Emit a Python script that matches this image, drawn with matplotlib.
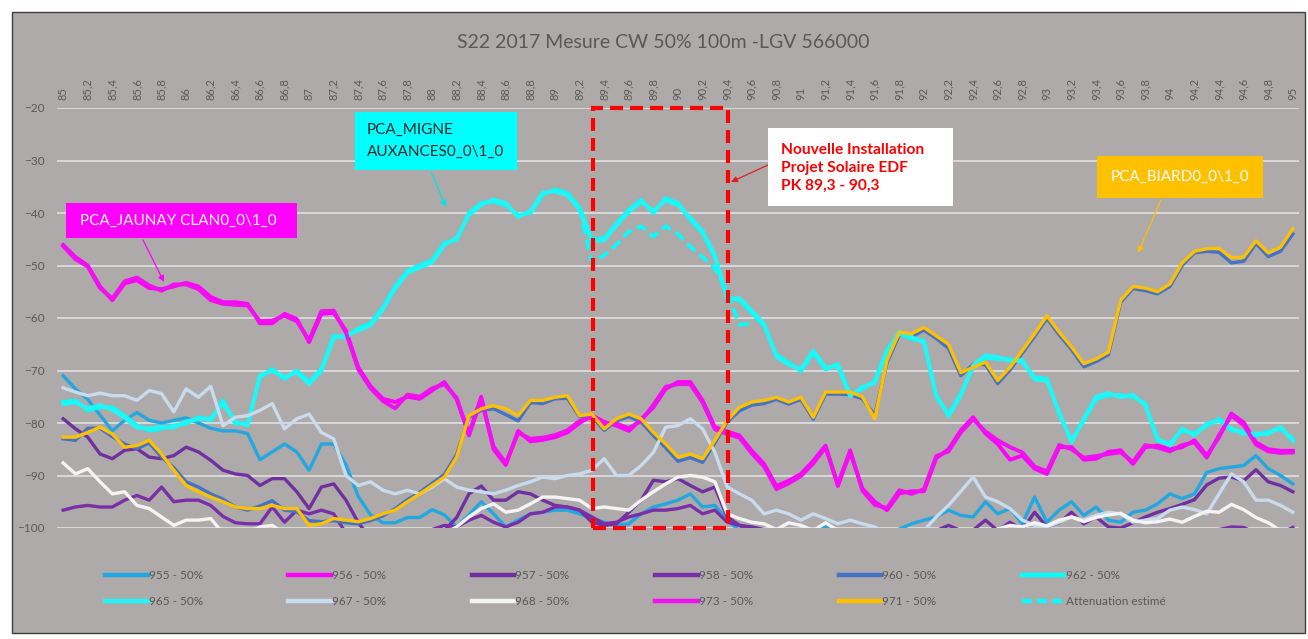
import matplotlib.pyplot as plt
import numpy as np
from matplotlib.patches import Rectangle
from matplotlib.lines import Line2D

plt.rcParams['font.family'] = ['Lato', 'DejaVu Sans']

# PK positions (km), one measure every 100 m
pk = np.round(np.arange(85.0, 95.05, 0.1), 1)
tick_pk = pk[::2]
tick_labels = [('%g' % v).replace('.', ',') for v in tick_pk]

s955 = [-71, -73.5, -75.5, -78.5, -81.5, -79.5, -78, -79.5, -80, -79.5,
        -79, -80, -81, -81.5, -81.5, -82, -87, -85.5, -84, -85.5,
        -89, -84, -84, -88, -94, -97.5, -99, -99, -98, -98,
        -96.5, -97.5, -99.8, -97.5, -95, -97.3, -99.8, -98.5, -97.3, -97,
        -96.6, -96.6, -97.3, -98.2, -98.9, -99.5, -99.2, -97.3, -96, -95.4,
        -94.7, -93.5, -96, -95.7, -98.5, -100.5, -102, -103, -103, -103,
        -102, -101, -99.8, -101, -103, -103, -103, -102, -100.2, -99.2,
        -98.5, -97.9, -96.6, -97.6, -97.9, -95, -97.3, -96.3, -99.2, -94.1,
        -98.9, -96.6, -95, -97.6, -96, -98.5, -98.9, -97, -96.6, -95.4,
        -93.5, -94.4, -93.5, -89.4, -88.7, -88.4, -88.1, -86.2, -88.7, -90, -91.6]

s956 = [-46.1, -48.4, -50, -54, -56.6, -53.4, -52.8, -54.3, -54.5, -54,
        -53.3, -54, -56, -57, -57, -57.3, -61, -61, -59.2, -60.2,
        -64.6, -59.2, -59, -62.4, -69.4, -73, -75.4, -76, -75, -75.4,
        -73.8, -72.2, -75.5, -82, -75, -85, -88, -81.5, -83.5, -83.2,
        -82.7, -81.8, -80, -78.5, -79.8, -80.5, -81.5, -79.3, -77, -73.5,
        -72.2, -72.2, -75.7, -80.8, -81.6, -82.4, -85.3, -87.8, -92, -91,
        -89.7, -87.2, -84.3, -92, -85.6, -92.5, -95, -96.6, -93.4, -93,
        -93, -86.7, -85, -81.4, -78.9, -82, -84, -87, -86.2, -88.7,
        -89.7, -84.6, -84.6, -87, -86.8, -85.5, -85.2, -87.8, -84.6, -84.3,
        -85, -84.6, -83.3, -86.2, -82.7, -78.2, -79.9, -83.7, -85, -85.3, -85.3]

s957 = [-79.2, -81.1, -82.7, -85.9, -86.8, -85.2, -84.9, -86.5, -86.8, -86.2,
        -84.6, -85.5, -87.1, -89, -89.7, -90, -91.9, -90.6, -90.6, -93.1,
        -96.3, -92.2, -91.6, -94.7, -99, -102, -103, -103, -103, -102,
        -101, -100.5, -98, -93.5, -92, -94.7, -94.7, -93.1, -93.5, -94.7,
        -95.7, -96, -96.6, -98.9, -99.5, -99.2, -97, -94.7, -90.9, -91.2,
        -90.6, -91.9, -93.1, -92.2, -97.9, -99.5, -99.8, -100.3, -101.5, -102,
        -102, -101.5, -102, -102, -102, -102, -102, -102, -102, -101.5,
        -101, -100.5, -99.5, -100.5, -100.4, -98.5, -100.5, -98.9, -100.3, -97,
        -99.8, -99, -97, -99.2, -97.9, -99.8, -100, -99, -97.9, -97,
        -96.3, -95.5, -94.6, -91.8, -90.5, -90.3, -91, -88.9, -91.2, -91.9, -93.1]

s958 = [-96.6, -96, -95.7, -96, -96, -94.7, -93.8, -94.7, -92.2, -95,
        -94.7, -94.7, -95.7, -97.8, -99, -99.2, -99.2, -96, -98.9, -96.6,
        -97.3, -96.6, -97.3, -101, -102, -102, -102, -102, -102, -101.5,
        -100.3, -99.5, -99.8, -98.5, -97.6, -98.9, -99.8, -98.9, -97.3, -97,
        -96, -96, -96.6, -97.9, -99.2, -98.9, -97.9, -97.3, -96.6, -96.6,
        -96.3, -95.7, -97.3, -96.6, -98.9, -99.5, -101, -102, -102, -102,
        -102, -102, -102, -102, -102, -102, -102, -102, -102, -102,
        -102, -102, -102, -102, -102, -102, -102, -102, -102, -102,
        -102, -102, -102, -102, -102, -102, -102, -101.5, -101, -101,
        -101, -101, -101, -100.8, -100.3, -99.8, -99.9, -101, -101.5, -101, -99.9]

s960 = [-83, -83.3, -81, -81, -82.6, -84, -84.9, -83.8, -86.5, -88.5,
        -91.2, -92.2, -93.5, -94.5, -96, -96.6, -95.8, -94.8, -96.6, -96.9,
        -98.6, -98.8, -98.6, -99, -99.2, -98.6, -97.7, -96.3, -94.6, -93.2,
        -91.5, -89.8, -86, -78.9, -77.6, -77.3, -78.4, -79.6, -76.1, -76.3,
        -75.4, -75.3, -78.8, -78.8, -81.4, -79.6, -78.8, -79.8, -82.4, -84.7,
        -87.3, -86.6, -87.5, -83.8, -79.8, -77.7, -76.6, -76.3, -75.5, -76.4,
        -75.5, -79.3, -74.5, -74.5, -74.6, -75.4, -78.5, -68.5, -63.2, -63.6,
        -62.3, -63.9, -65.8, -71, -68.8, -68.9, -72.5, -69.9, -66.7, -63.5,
        -60.1, -63.2, -66, -69.3, -68.3, -67, -57, -54.4, -54.8, -55.4,
        -54, -50, -47.6, -47.3, -47.5, -49.5, -49.2, -45.8, -48.3, -47.3, -44]

s962 = [-76, -75.7, -77.6, -77, -77, -78.6, -80.5, -81.4, -81.1, -80.5,
        -80.1, -78.9, -79.5, -75.7, -80.1, -80.1, -71.3, -69.7, -71.6, -70,
        -72.2, -69.7, -63.4, -63.7, -62, -61, -58, -54, -51, -50,
        -49, -45.7, -45.1, -40, -38.1, -37.8, -38.5, -40.4, -40, -36.5,
        -35.5, -36.2, -39, -45, -44.8, -42, -39.4, -37.5, -40, -37.2,
        -38.1, -41.3, -43.8, -48.4, -56, -56.6, -59, -61.5, -67, -68.5,
        -70.1, -66.6, -69.8, -68.8, -74.5, -73.5, -72, -66, -63, -64,
        -64.3, -75, -78.3, -74.4, -69.4, -67.5, -67.8, -67.8, -68.4, -71.3,
        -71.6, -78.3, -83.3, -79.5, -75.4, -74.7, -74.7, -75, -76.3, -83.3,
        -83.9, -81.4, -82, -80.5, -79.2, -81.4, -81.7, -82.4, -81.7, -81.1, -83]

s965 = [-76.4, -76.1, -77.2, -76.6, -77.5, -79, -80.9, -81, -80.7, -80.9,
        -79.7, -79.3, -79.1, -76.3, -79.7, -80.5, -70.9, -70.1, -71.2, -70.4,
        -72.6, -70.1, -63.8, -63.3, -62.4, -61.4, -58.4, -54.4, -51.4, -50.4,
        -49.4, -46.1, -44.7, -40.4, -38.5, -37.4, -38.1, -40.8, -39.6, -36.1,
        -35.9, -36.6, -39.4, -45.4, -45.2, -42.4, -39.8, -37.9, -39.6, -37.6,
        -38.5, -40.9, -43.4, -48, -56.4, -56.2, -58.6, -61.1, -67.4, -68.9,
        -69.7, -66.2, -69.4, -69.2, -74.9, -73.1, -72.4, -66.4, -62.6, -63.6,
        -64.7, -74.6, -78.7, -74.8, -69, -67.1, -67.4, -68.2, -68, -71.7,
        -72, -77.9, -83.7, -79.1, -75, -74.3, -75.1, -74.6, -76.7, -82.9,
        -84.3, -81, -82.4, -80.1, -79.6, -81, -82.1, -82, -82.1, -80.7, -83.4]

s967 = [-73.3, -74.1, -74.8, -74.3, -74.8, -74.8, -75.7, -73.8, -74.4, -77.9,
        -73.5, -75.1, -73, -80.5, -78.9, -78.6, -77.6, -76.3, -81.1, -79.2,
        -78.3, -81.8, -83, -90, -91.9, -91.2, -92.8, -93.5, -92.8, -93.5,
        -92.2, -90.6, -92.2, -92.8, -93.1, -93.5, -92.8, -91.9, -91.2, -90.3,
        -90.6, -90, -89.7, -89, -86.8, -90, -90, -88.1, -85.6, -80.8,
        -80.5, -79.2, -81.1, -85.6, -92.2, -93.5, -94.7, -97.3, -96.6, -97.3,
        -98.5, -97.3, -98.2, -99.2, -98.5, -99.2, -99.8, -101, -101, -101,
        -100.5, -97.9, -95.7, -93, -90.3, -94.1, -95, -96.3, -98.5, -99.5,
        -99.8, -98.9, -97.9, -98.5, -97.6, -97, -97.3, -98.9, -98.5, -98.2,
        -96.6, -96, -96.5, -97.3, -93.5, -89.7, -91.2, -94.7, -94.7, -95.7, -97]

s968 = [-87.6, -89.7, -88.7, -91.2, -93.5, -93.1, -95.7, -96.3, -97.9, -99.5,
        -98.5, -98.5, -98.2, -101, -102, -101, -99.8, -99.5, -101, -102,
        -102, -102, -102, -102, -102, -102, -102, -102, -102, -102,
        -102, -101, -99.8, -97.9, -96.3, -95.4, -97, -96.6, -95.4, -94.1,
        -94.1, -94.4, -94.7, -96.3, -96, -96.3, -96.6, -94.7, -93.1, -91.6,
        -90.3, -90, -90.3, -91.2, -97.3, -98.2, -98.9, -99.2, -100.3, -99,
        -99.5, -100.5, -99, -100.5, -101, -101, -101, -101, -101, -101,
        -101, -101, -101, -101, -101, -101, -100.2, -99.5, -99.8, -99,
        -99.6, -98.5, -97.9, -98.8, -98, -97.5, -97.2, -98.5, -99, -98.8,
        -98.3, -98.9, -97.8, -96.8, -97, -95.5, -96.5, -98, -99, -100.5, -101]

s973 = [-46.3, -48.8, -50.2, -54.3, -56.3, -53, -52.3, -53.8, -54.8, -53.6,
        -53.6, -54.5, -56.6, -57.3, -57.5, -57.6, -60.6, -60.5, -59.6, -60.6,
        -64.2, -58.7, -58.6, -62.8, -69.8, -73.4, -75.8, -77.2, -74.6, -75,
        -73.4, -72.6, -75.2, -82.4, -75.5, -84.5, -87.6, -81.9, -83, -82.8,
        -82.3, -81.4, -79.6, -78.9, -80.2, -80.1, -81, -79.6, -76.5, -73.1,
        -72.6, -72.6, -76.1, -81.2, -82.1, -82.8, -85.8, -88.3, -92.6, -91.5,
        -90.1, -87.7, -84.7, -91.6, -85.2, -92.9, -95.6, -96.2, -92.8, -93.5,
        -92.6, -86.3, -85.4, -81.8, -79.3, -81.6, -83.3, -84.6, -85.6, -88.3,
        -89.2, -84.2, -85, -86.6, -86.3, -85.9, -85.6, -87.4, -84.2, -84.7,
        -85.4, -84.2, -83.7, -86.6, -82.3, -78.6, -80.4, -84.1, -85.4, -85.7, -85.6]

s971 = [-82.7, -82.7, -81.8, -80.8, -82.1, -84.6, -84.3, -83.3, -85.9, -89,
        -91.9, -93.1, -94.1, -95, -96, -96.3, -96.3, -95.7, -96.3, -96.3,
        -99.5, -99.2, -98.2, -98.5, -98.8, -98.2, -97.3, -96.6, -95, -93.5,
        -91.9, -90.3, -86.5, -78.6, -77.3, -76.7, -77.3, -78.6, -75.7, -75.7,
        -75.1, -74.8, -78.6, -78.3, -81.1, -79.2, -78.3, -79.2, -81.8, -84,
        -86.5, -85.9, -86.8, -83.3, -79.5, -77, -76, -75.7, -75.1, -76,
        -75.1, -78.9, -74.1, -74.1, -74.1, -75, -79.2, -68, -62.7, -63,
        -61.8, -63.4, -65, -70.4, -69.4, -68.4, -71.9, -69.4, -66.2, -63,
        -59.6, -62.7, -65.5, -68.7, -67.8, -66.5, -56.6, -54, -54.3, -55,
        -53.5, -49.5, -47.3, -46.8, -46.7, -48.5, -48.4, -45.3, -47.6, -46.5, -43]

# estimated attenuation, PK 89,2 -> 90,6
att_pk = pk[42:57]
att = [-39, -49.5, -48, -46, -43.5, -42.5, -44.5, -42.5, -44, -46.4,
       -48.4, -50.5, -55, -61.3, -61]

series = [
    ('955 - 50%', s955, '#22A7E0', 2.4),
    ('956 - 50%', s956, '#FF00FF', 2.8),
    ('957 - 50%', s957, '#7030A0', 2.4),
    ('958 - 50%', s958, '#7A2FA8', 2.4),
    ('960 - 50%', s960, '#4472C4', 2.4),
    ('962 - 50%', s962, '#00FFFF', 2.8),
    ('965 - 50%', s965, '#22F5F5', 2.8),
    ('967 - 50%', s967, '#C9DCEE', 2.4),
    ('968 - 50%', s968, '#F4F4F4', 2.4),
    ('973 - 50%', s973, '#F010F0', 2.8),
    ('971 - 50%', s971, '#FFC000', 2.4),
]

W, H = 1308, 639
fig = plt.figure(figsize=(W / 100, H / 100), dpi=100)
fig.patches.append(Rectangle((12 / W, 1 - 633 / H), 1293 / W, 621 / H, transform=fig.transFigure,
                             facecolor='#AEAAAA', edgecolor='#3F3F3F', lw=1, zorder=-5))

ax = fig.add_axes([57 / W, 111 / H, 1242 / W, 420 / H])
ax.set_facecolor('none')
ax.set_xlim(84.95, 95.05)
ax.set_ylim(-100, -20)
for sp in ax.spines.values():
    sp.set_visible(False)
ax.set_yticks(range(-100, -19, 10))
ax.grid(axis='y', color='#DCDCDC', lw=1.3, zorder=0)
ax.set_axisbelow(True)
ax.xaxis.tick_top()
ax.set_xticks(tick_pk, tick_labels, rotation=90)
ax.tick_params(axis='x', length=0, pad=6, labelsize=8, labelcolor='#595959')
ax.tick_params(axis='y', length=0, pad=9, labelsize=8.5, labelcolor='#595959')

handles = {}
for i, (name, vals, col, lw) in enumerate(series):
    ax.plot(pk, vals, color=col, lw=lw, solid_joinstyle='round', zorder=3 + i * 0.1)
    handles[name] = Line2D([], [], color=col, lw=3.2)
ax.plot(att_pk, att, color='#00FFFF', lw=2.6, ls=(0, (3, 1.5)), zorder=5)
handles['Attenuation estimé'] = Line2D([], [], color='#00FFFF', lw=3.2, ls=(0, (2.2, 1.2)))

# zone of the new installation
ax.add_patch(Rectangle((89.31, -100), 1.1, 80, fill=False, edgecolor='#FF0000', lw=3,
                       ls=(0, (3.1, 1.7)), clip_on=False, zorder=10))

fig.text(663 / W, 1 - 42 / H, 'S22 2017 Mesure CW 50% 100m -LGV 566000', ha='center', va='center',
         fontsize=14, color='#595959')


def box(x0, y0, x1, y1, fc):
    fig.patches.append(Rectangle((x0 / W, 1 - y1 / H), (x1 - x0) / W, (y1 - y0) / H,
                                 transform=fig.transFigure, facecolor=fc, edgecolor='none', zorder=12))


def arrow(x0, y0, x1, y1, col):
    fig.add_artist(plt.Annotation('', xy=(x1, H - y1), xycoords='figure pixels', xytext=(x0, H - y0),
                                  textcoords='figure pixels', zorder=12,
                                  arrowprops=dict(arrowstyle='-|>', color=col, lw=0.9, mutation_scale=9,
                                                  shrinkA=0, shrinkB=0)))


box(66, 203, 297, 238, '#FF00FF')
fig.text(80 / W, 1 - 221 / H, 'PCA_JAUNAY CLAN0_0\\1_0', color='white', fontsize=11,
         va='center', ha='left', zorder=13)
arrow(143, 240, 164, 282, '#FF00FF')

box(355, 112, 517, 170, '#00FFFF')
fig.text(367 / W, 1 - 141 / H, 'PCA_MIGNE\nAUXANCES0_0\\1_0', color='#262626', fontsize=11,
         va='center', ha='left', linespacing=1.7, zorder=13)
arrow(431, 172, 446, 207, '#00E5E5')

box(768, 128, 953, 206, 'white')
fig.text(781 / W, 1 - 168 / H, 'Nouvelle Installation\nProjet Solaire EDF\nPK 89,3 - 90,3',
         color='#FF0000', fontsize=11.2, fontweight='bold', va='center', ha='left',
         linespacing=1.35, zorder=13)
arrow(768, 165, 731, 182, '#E02020')

box(1097, 156, 1263, 198, '#FFC000')
fig.text(1180 / W, 1 - 177 / H, 'PCA_BIARD0_0\\1_0', color='white', fontsize=11,
         va='center', ha='center', zorder=13)
arrow(1161, 200, 1138, 253, '#FFC000')

row1 = ['955 - 50%', '956 - 50%', '957 - 50%', '958 - 50%', '960 - 50%', '962 - 50%']
row2 = ['965 - 50%', '967 - 50%', '968 - 50%', '973 - 50%', '971 - 50%', 'Attenuation estimé']
order = [n for pair in zip(row1, row2) for n in pair]
fig.legend([handles[n] for n in order], order, ncol=6, loc='upper left',
           bbox_to_anchor=(105 / W, 1 - 570 / H), frameon=False, fontsize=8.5,
           labelcolor='#595959', handlelength=3.6, handletextpad=0.1, columnspacing=7.25,
           borderpad=0, borderaxespad=0, labelspacing=1.3)

fig.savefig('out.png', dpi=100, facecolor='white')
